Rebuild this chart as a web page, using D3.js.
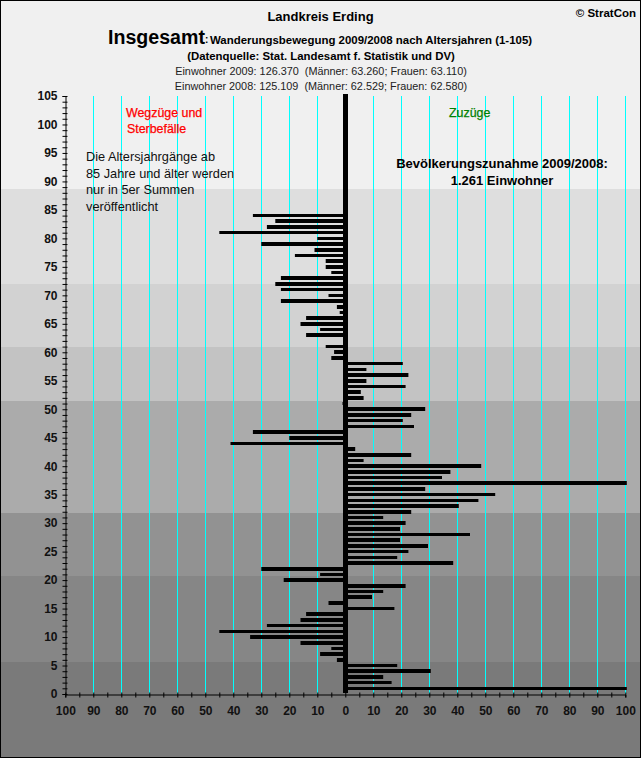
<!DOCTYPE html>
<html>
<head>
<meta charset="utf-8">
<script src="https://cdn.jsdelivr.net/npm/d3@7"></script>
<style>
html, body { margin: 0; padding: 0; background: #fff; }
svg { display: block; }
text { font-family: "Liberation Sans", Arial, sans-serif; fill: #000; }
.axis path { stroke: #000; stroke-width: 1px; }
.axis line { stroke: #000; stroke-width: 1px; }
.axis text { font-family: "Liberation Sans", Arial, sans-serif; font-size: 12px; font-weight: bold; fill: #111; }
</style>
</head>
<body>
<div class="container"></div>
<script>
const WIDTH = 641;
const HEIGHT = 758;

// saldo per age year, index = age (0..84), negative = Wegzuege
var saldo = [
  0, 100, 16, 13, 30, 18, -3, -9, -5, -16,
  -34, -45, -28, -16, -14, 17, -6, 9, 13, 21,
  -22, -9, -30, 38, 18, 22, 29, 19, 44, 19,
  21, 13, 23, 40, 47, 53, 28, 100, 34, 37,
  48, 6, 23, 3, -41, -20, -33, 24, 20, 23,
  28, -1, 6, 5, 21, 7, 22, 7, 20, -5,
  -4, -7, 0, -14, -9, -16, -14, -2, -3, -23,
  -6, -23, -25, -23, -5, -7, -7, -18, -11, -30,
  -10, -45, -28, -25, -33
];

// age limits of the grey background bands, top to bottom
var bandLimits = [88.7, 72, 60.9, 51.4, 31.8, 20.8, 5.6];
var bandColors = ["#f0f0f0", "#dedede", "#d2d2d2", "#c3c3c3", "#ababab", "#929292", "#868686", "#7a7a7a"];

var gridValues = [-90, -80, -70, -60, -50, -40, -30, -20, -10, 10, 20, 30, 40, 50, 60, 70, 80, 90, 100];

var noteLines = ["Die Altersjahrgänge ab", "85 Jahre und älter werden", "nur in 5er Summen", "veröffentlicht"];

var svg = d3.select('.container').append('svg')
  .attr('width', WIDTH)
  .attr('height', HEIGHT);

var xScale = d3.scaleLinear().domain([-100, 100]).range([65.3, 625.3]);
var yScale = d3.scaleLinear().domain([0, 105]).range([694, 96]);

var translate = function (x, y) {
  return "translate(" + x + "," + y + ")";
};

// background bands run across the whole picture
var bandEdges = [0].concat(bandLimits.map(function (q) { return Math.round(yScale(q)); }), [HEIGHT]);
svg.append('g').selectAll('rect')
  .data(bandColors)
  .enter().append('rect')
  .attr('x', 0)
  .attr('width', WIDTH)
  .attr('y', function (d, i) { return bandEdges[i]; })
  .attr('height', function (d, i) { return bandEdges[i + 1] - bandEdges[i]; })
  .attr('fill', function (d) { return d; });

// grid
svg.append('g').selectAll('line')
  .data(gridValues)
  .enter().append('line')
  .attr('x1', function (d) { return Math.round(xScale(d)) + 0.5; })
  .attr('x2', function (d) { return Math.round(xScale(d)) + 0.5; })
  .attr('y1', yScale(105))
  .attr('y2', yScale(0))
  .attr('stroke', '#00ffff')
  .attr('stroke-width', 1);

// y axis: ticks every year, labels every 5
var yAxis = d3.axisLeft(yScale)
  .tickValues(d3.range(0, 106))
  .tickSize(3)
  .tickPadding(5)
  .tickFormat(function (d) { return d % 5 === 0 ? d : ""; });

var yGroup = svg.append('g')
  .attr('class', 'axis')
  .attr('transform', translate(65.5, 0))
  .call(yAxis);
yGroup.selectAll('.tick line').attr('x1', 2);
yGroup.selectAll('.tick text').attr('x', -8);

// x axis: ticks every 5, labels every 10, both sides positive
var xAxis = d3.axisBottom(xScale)
  .tickValues(d3.range(-100, 101, 5))
  .tickSize(3)
  .tickPadding(9)
  .tickFormat(function (d) { return d % 10 === 0 ? Math.abs(d) : ""; });

var xGroup = svg.append('g')
  .attr('class', 'axis')
  .attr('transform', translate(0, 694.5))
  .call(xAxis);
xGroup.selectAll('.tick line').attr('y1', -2);

// bars, age is the datum; age 0 and 62 have no bar
var barHeight = 3.6;
svg.append('g').selectAll('rect')
  .data(d3.range(saldo.length).filter(function (age) { return saldo[age] !== 0; }))
  .enter().append('rect')
  .attr('x', function (age) { return saldo[age] < 0 ? xScale(saldo[age]) : xScale(0); })
  .attr('width', function (age) { return Math.abs(xScale(saldo[age]) - xScale(0)) + (saldo[age] > 0 ? 1.5 : 0); })
  .attr('y', function (age) { return Math.round(yScale(age) - barHeight / 2); })
  .attr('height', function (age) { return Math.round(yScale(age) + barHeight / 2) - Math.round(yScale(age) - barHeight / 2); })
  .attr('fill', '#000');

// thick zero line
svg.append('line')
  .attr('x1', xScale(0) + 0.2)
  .attr('x2', xScale(0) + 0.2)
  .attr('y1', yScale(105) - 2)
  .attr('y2', yScale(0) - 1)
  .attr('stroke', '#000')
  .attr('stroke-width', 5);

// headings
var label = function (txt, x, y, size, weight, anchor, color) {
  return svg.append('text')
    .attr('x', x).attr('y', y)
    .attr('font-size', size + 'px')
    .attr('font-weight', weight)
    .attr('text-anchor', anchor)
    .style('fill', color || '#000')
    .attr('xml:space', 'preserve')
    .text(txt);
};

label("Landkreis Erding", 320.5, 21, 13, "bold", "middle");
label("© StratCon", 636, 17, 11.5, "bold", "end");
label("Insgesamt", 108, 44, 19.6, "bold", "start");
label(":", 205, 43, 10, "bold", "start");
label("Wanderungsbewegung 2009/2008 nach Altersjahren (1-105)", 210, 44, 11.45, "bold", "start");
label("(Datenquelle: Stat. Landesamt f. Statistik und DV)", 321, 60, 11.4, "bold", "middle");
label("Einwohner 2009: 126.370  (Männer: 63.260; Frauen: 63.110)", 321, 75, 10.85, "normal", "middle", "#222");
label("Einwohner 2008: 125.109  (Männer: 62.529; Frauen: 62.580)", 321, 90, 10.85, "normal", "middle", "#222");

label("Wegzüge und", 126, 117, 12.4, "normal", "start", "#ff0000").style('stroke', '#ff0000').style('stroke-width', 0.25);
label("Sterbefälle", 127, 133, 12.4, "normal", "start", "#ff0000").style('stroke', '#ff0000').style('stroke-width', 0.25);
label("Zuzüge", 449, 117, 12.4, "normal", "start", "#008000").style('stroke', '#008000').style('stroke-width', 0.25);

noteLines.forEach(function (q, i) {
  label(q, 86, 161 + i * 16.7, 12.75, "normal", "start", "#111");
});

label("Bevölkerungszunahme 2009/2008:", 502, 168, 13, "bold", "middle");
label("1.261 Einwohner", 502, 185, 13, "bold", "middle");

// frame
svg.append('rect')
  .attr('x', 0.5).attr('y', 0.5)
  .attr('width', WIDTH - 1).attr('height', HEIGHT - 1)
  .attr('fill', 'none')
  .attr('stroke', '#000');
</script>
</body>
</html>
